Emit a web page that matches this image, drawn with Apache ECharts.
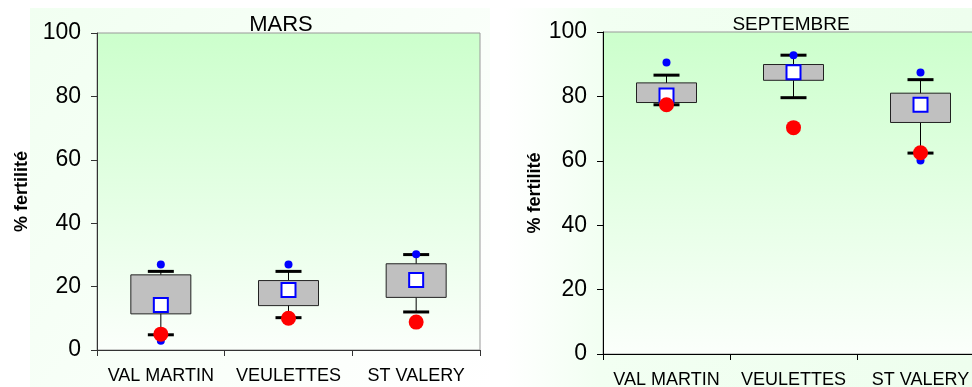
<!DOCTYPE html>
<html>
<head>
<meta charset="utf-8">
<script src="https://cdn.jsdelivr.net/npm/echarts@6/dist/echarts.min.js"></script>
<style>
  html, body { margin: 0; padding: 0; background: #ffffff; overflow: hidden; }
  #chart { width: 972px; height: 387px; }
</style>
</head>
<body>
<div id="chart"></div>
<script>
// Sites sampled
var categories = ['VAL MARTIN', 'VEULETTES', 'ST VALERY'];
var yTicks = [0, 20, 40, 60, 80, 100];

// MARS: whisker ends, quartile box, mean, extreme points, observed value
var marsLow   = [4.8, 10.2, 12.0];
var marsQ1    = [11.4, 14.0, 16.6];
var marsQ3    = [23.7, 21.9, 27.2];
var marsHigh  = [24.8, 24.8, 30.1];
var marsMean  = [14.2, 18.9, 22.1];
var marsMax   = [27.0, 27.0, 30.2];
var marsMin   = [2.9, null, null];
var marsObs   = [5.0, 10.0, 8.8];

// SEPTEMBRE
var septLow   = [77.4, 79.6, 62.4];
var septQ1    = [78.1, 85.0, 71.9];
var septQ3    = [84.2, 89.9, 81.0];
var septHigh  = [86.6, 92.8, 85.2];
var septMean  = [80.3, 87.5, 77.4];
var septMax   = [90.5, 92.8, 87.4];
var septMin   = [null, null, 60.1];
var septObs   = [77.4, 70.3, 62.5];

var FONT = '"Liberation Sans", Arial, sans-serif';

function boxData(low, q1, q3, high) {
  return categories.map(function (c, i) { return [i, low[i], q1[i], q3[i], high[i]]; });
}
function pointData(vals) {
  var out = [];
  vals.forEach(function (v, i) { if (v !== null) out.push([i, v]); });
  return out;
}

function renderBox(params, api) {
  var i = api.value(0);
  var pLow = api.coord([i, api.value(1)]);
  var pQ1 = api.coord([i, api.value(2)]);
  var pQ3 = api.coord([i, api.value(3)]);
  var pHigh = api.coord([i, api.value(4)]);
  var x = pLow[0];
  var boxW = 60, capW = 26;
  return {
    type: 'group',
    children: [
      { type: 'line', shape: { x1: x, y1: pLow[1], x2: x, y2: pHigh[1] },
        style: { stroke: '#000', lineWidth: 1 } },
      { type: 'rect', shape: { x: x - boxW / 2, y: pQ3[1], width: boxW, height: pQ1[1] - pQ3[1] },
        style: { fill: '#c0c0c0', stroke: '#222', lineWidth: 1 } },
      { type: 'line', shape: { x1: x - capW / 2, y1: pLow[1], x2: x + capW / 2, y2: pLow[1] },
        style: { stroke: '#000', lineWidth: 3 } },
      { type: 'line', shape: { x1: x - capW / 2, y1: pHigh[1], x2: x + capW / 2, y2: pHigh[1] },
        style: { stroke: '#000', lineWidth: 3 } }
    ]
  };
}

function seriesFor(idx, low, q1, q3, high, mean, max, min, obs) {
  return [
    { type: 'custom', xAxisIndex: idx, yAxisIndex: idx, renderItem: renderBox,
      data: boxData(low, q1, q3, high), z: 2, silent: true },
    { type: 'scatter', xAxisIndex: idx, yAxisIndex: idx, symbol: 'circle', symbolSize: 8,
      itemStyle: { color: '#0000ff', opacity: 1 }, data: pointData(max).concat(pointData(min)), z: 3 },
    { type: 'scatter', xAxisIndex: idx, yAxisIndex: idx, symbol: 'rect', symbolSize: 14,
      itemStyle: { color: '#ffffff', borderColor: '#0000ff', borderWidth: 2, opacity: 1 },
      data: pointData(mean), z: 4 },
    { type: 'scatter', xAxisIndex: idx, yAxisIndex: idx, symbol: 'circle', symbolSize: 15,
      itemStyle: { color: '#ff0000', opacity: 1 }, data: pointData(obs), z: 5 }
  ];
}

var plotFill = new echarts.graphic.LinearGradient(0, 0, 0, 1, [
  { offset: 0, color: '#ccffcc' },
  { offset: 1, color: '#fbfffb' }
]);

function xAxisFor(idx, axisColor) {
  return {
    type: 'category', gridIndex: idx, data: categories, boundaryGap: true,
    axisLine: { lineStyle: { color: axisColor, width: 1 } },
    axisTick: { show: true, alignWithLabel: false, length: 6, lineStyle: { color: axisColor } },
    axisLabel: { color: '#000', fontFamily: FONT, fontSize: 18, margin: 17, interval: 0,
      hideOverlap: false }
  };
}
function yAxisFor(idx, axisColor, gap) {
  return {
    type: 'value', gridIndex: idx, min: 0, max: 100, interval: 20,
    name: '% fertilité', nameLocation: 'middle', nameGap: gap, nameRotate: 90,
    nameTextStyle: { fontFamily: FONT, fontWeight: 'bold', fontSize: 18, color: '#000' },
    axisLine: { show: true, lineStyle: { color: axisColor, width: 1 } },
    axisTick: { show: true, length: 6, lineStyle: { color: axisColor } },
    axisLabel: { color: '#000', fontFamily: FONT, fontSize: 23, margin: 16,
      formatter: function (v) { return yTicks.indexOf(v) >= 0 ? String(v) : ''; } },
    splitLine: { show: false }
  };
}

var chart = echarts.init(document.getElementById('chart'), null, { renderer: 'canvas' });
chart.setOption({
  backgroundColor: '#ffffff',
  animation: false,
  graphic: [
    { type: 'rect', z: -10, shape: { x: 30, y: 8, width: 460, height: 379 },
      style: { fill: new echarts.graphic.LinearGradient(0, 0, 1, 1, [
        { offset: 0, color: '#f1fff1' }, { offset: 1, color: '#ffffff' } ]) } },
    { type: 'rect', z: -10, shape: { x: 505, y: 8, width: 467, height: 379 },
      style: { fill: new echarts.graphic.LinearGradient(0, 0, 1, 0, [
        { offset: 0, color: '#ffffff' }, { offset: 0.2, color: '#f2fff2' }, { offset: 1, color: '#eefeee' } ]) } }
  ],
  title: [
    { text: 'MARS', left: 276, top: 9, textAlign: 'center',
      textStyle: { fontFamily: FONT, fontSize: 22, fontWeight: 'normal', color: '#000' } },
    { text: 'SEPTEMBRE', left: 786, top: 10, textAlign: 'center',
      textStyle: { fontFamily: FONT, fontSize: 19, fontWeight: 'normal', color: '#000' } }
  ],
  grid: [
    { left: 97, top: 33, width: 383, height: 317, show: true, outerBoundsMode: 'none',
      containLabel: false, backgroundColor: plotFill, borderColor: '#999', borderWidth: 1 },
    { left: 603, top: 32, width: 381, height: 322, show: true, outerBoundsMode: 'none',
      containLabel: false, backgroundColor: plotFill, borderColor: '#999', borderWidth: 1 }
  ],
  xAxis: [xAxisFor(0, '#333'), xAxisFor(1, '#000')],
  yAxis: [yAxisFor(0, '#333', 66), yAxisFor(1, '#000', 59)],
  series: seriesFor(0, marsLow, marsQ1, marsQ3, marsHigh, marsMean, marsMax, marsMin, marsObs)
    .concat(seriesFor(1, septLow, septQ1, septQ3, septHigh, septMean, septMax, septMin, septObs))
});
</script>
</body>
</html>
